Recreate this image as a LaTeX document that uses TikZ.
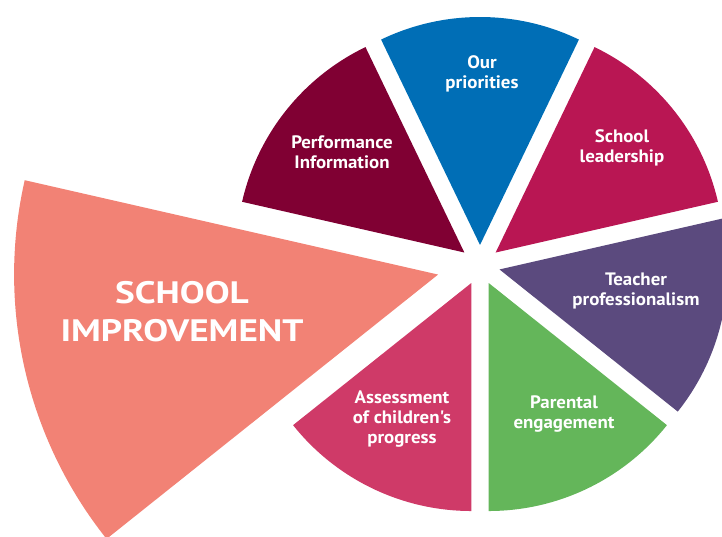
\documentclass[tikz,border=0pt]{standalone}
\usepackage{fontspec}
\setmainfont{PT Sans}
\newfontfamily\labelfont[FakeStretch=1.05]{PT Sans}
\newfontfamily\bigfont[FakeStretch=1.2]{PT Sans}
\usetikzlibrary{calc}

\definecolor{salmon}{RGB}{242,130,117}
\definecolor{assesspink}{RGB}{207,58,104}
\definecolor{parentgreen}{RGB}{100,182,90}
\definecolor{teachpurple}{RGB}{91,74,126}
\definecolor{leadmagenta}{RGB}{185,22,83}
\definecolor{prioblue}{RGB}{0,110,182}
\definecolor{perfmaroon}{RGB}{128,0,51}

\tikzset{
  slice label/.style={text=white, align=center, inner sep=0pt,
    font=\labelfont\bfseries\fontsize{18}{20}\selectfont},
  big label/.style={text=white, align=center, inner sep=0pt,
    font=\bigfont\bfseries\fontsize{31}{38}\selectfont}
}

\begin{document}
\begin{tikzpicture}[x=1pt, y=1pt]
    % Fix the frame
    \useasboundingbox (0,0) rectangle (722,537);
    \clip (0,0) rectangle (722,537);
    \coordinate (C) at (480,272);

    % Draw the big slice
    \fill[salmon] ($(C)+(192.86:43pt)$) -- ++(167.14:424pt)
        arc[start angle=167.14, end angle=218.57, radius=424pt] -- cycle;

    % Draw the other slices
    \fill[assesspink] ($(C)+(244.29:20pt)$) -- ++(218.57:228pt)
        arc[start angle=218.57, end angle=270, radius=228pt] -- cycle;
    \fill[parentgreen] ($(C)+(295.71:20pt)$) -- ++(270:228pt)
        arc[start angle=270, end angle=321.43, radius=228pt] -- cycle;
    \fill[teachpurple] ($(C)+(347.14:20pt)$) -- ++(321.43:228pt)
        arc[start angle=321.43, end angle=372.86, radius=228pt] -- cycle;
    \fill[leadmagenta] ($(C)+(38.57:20pt)$) -- ++(12.86:228pt)
        arc[start angle=12.86, end angle=64.29, radius=228pt] -- cycle;
    \fill[prioblue] ($(C)+(90:20pt)$) -- ++(64.29:228pt)
        arc[start angle=64.29, end angle=115.71, radius=228pt] -- cycle;
    \fill[perfmaroon] ($(C)+(141.43:20pt)$) -- ++(115.71:228pt)
        arc[start angle=115.71, end angle=167.14, radius=228pt] -- cycle;

    % Labels
    \node[big label] (improve) at (182,225) {SCHOOL\\IMPROVEMENT};
    \node[slice label] (assess) at (402,118) {Assessment\\of children's\\progress};
    \node[slice label] (parent) at (564,123) {Parental\\engagement};
    \node[slice label] (teacher) at (636,246) {Teacher\\professionalism};
    \node[slice label] (leader) at (622,389) {School\\leadership};
    \node[slice label] (prio) at (482,463) {Our\\priorities};
    \node[slice label] (perf) at (342,385) {Performance\\Information};

\end{tikzpicture}
\end{document}
